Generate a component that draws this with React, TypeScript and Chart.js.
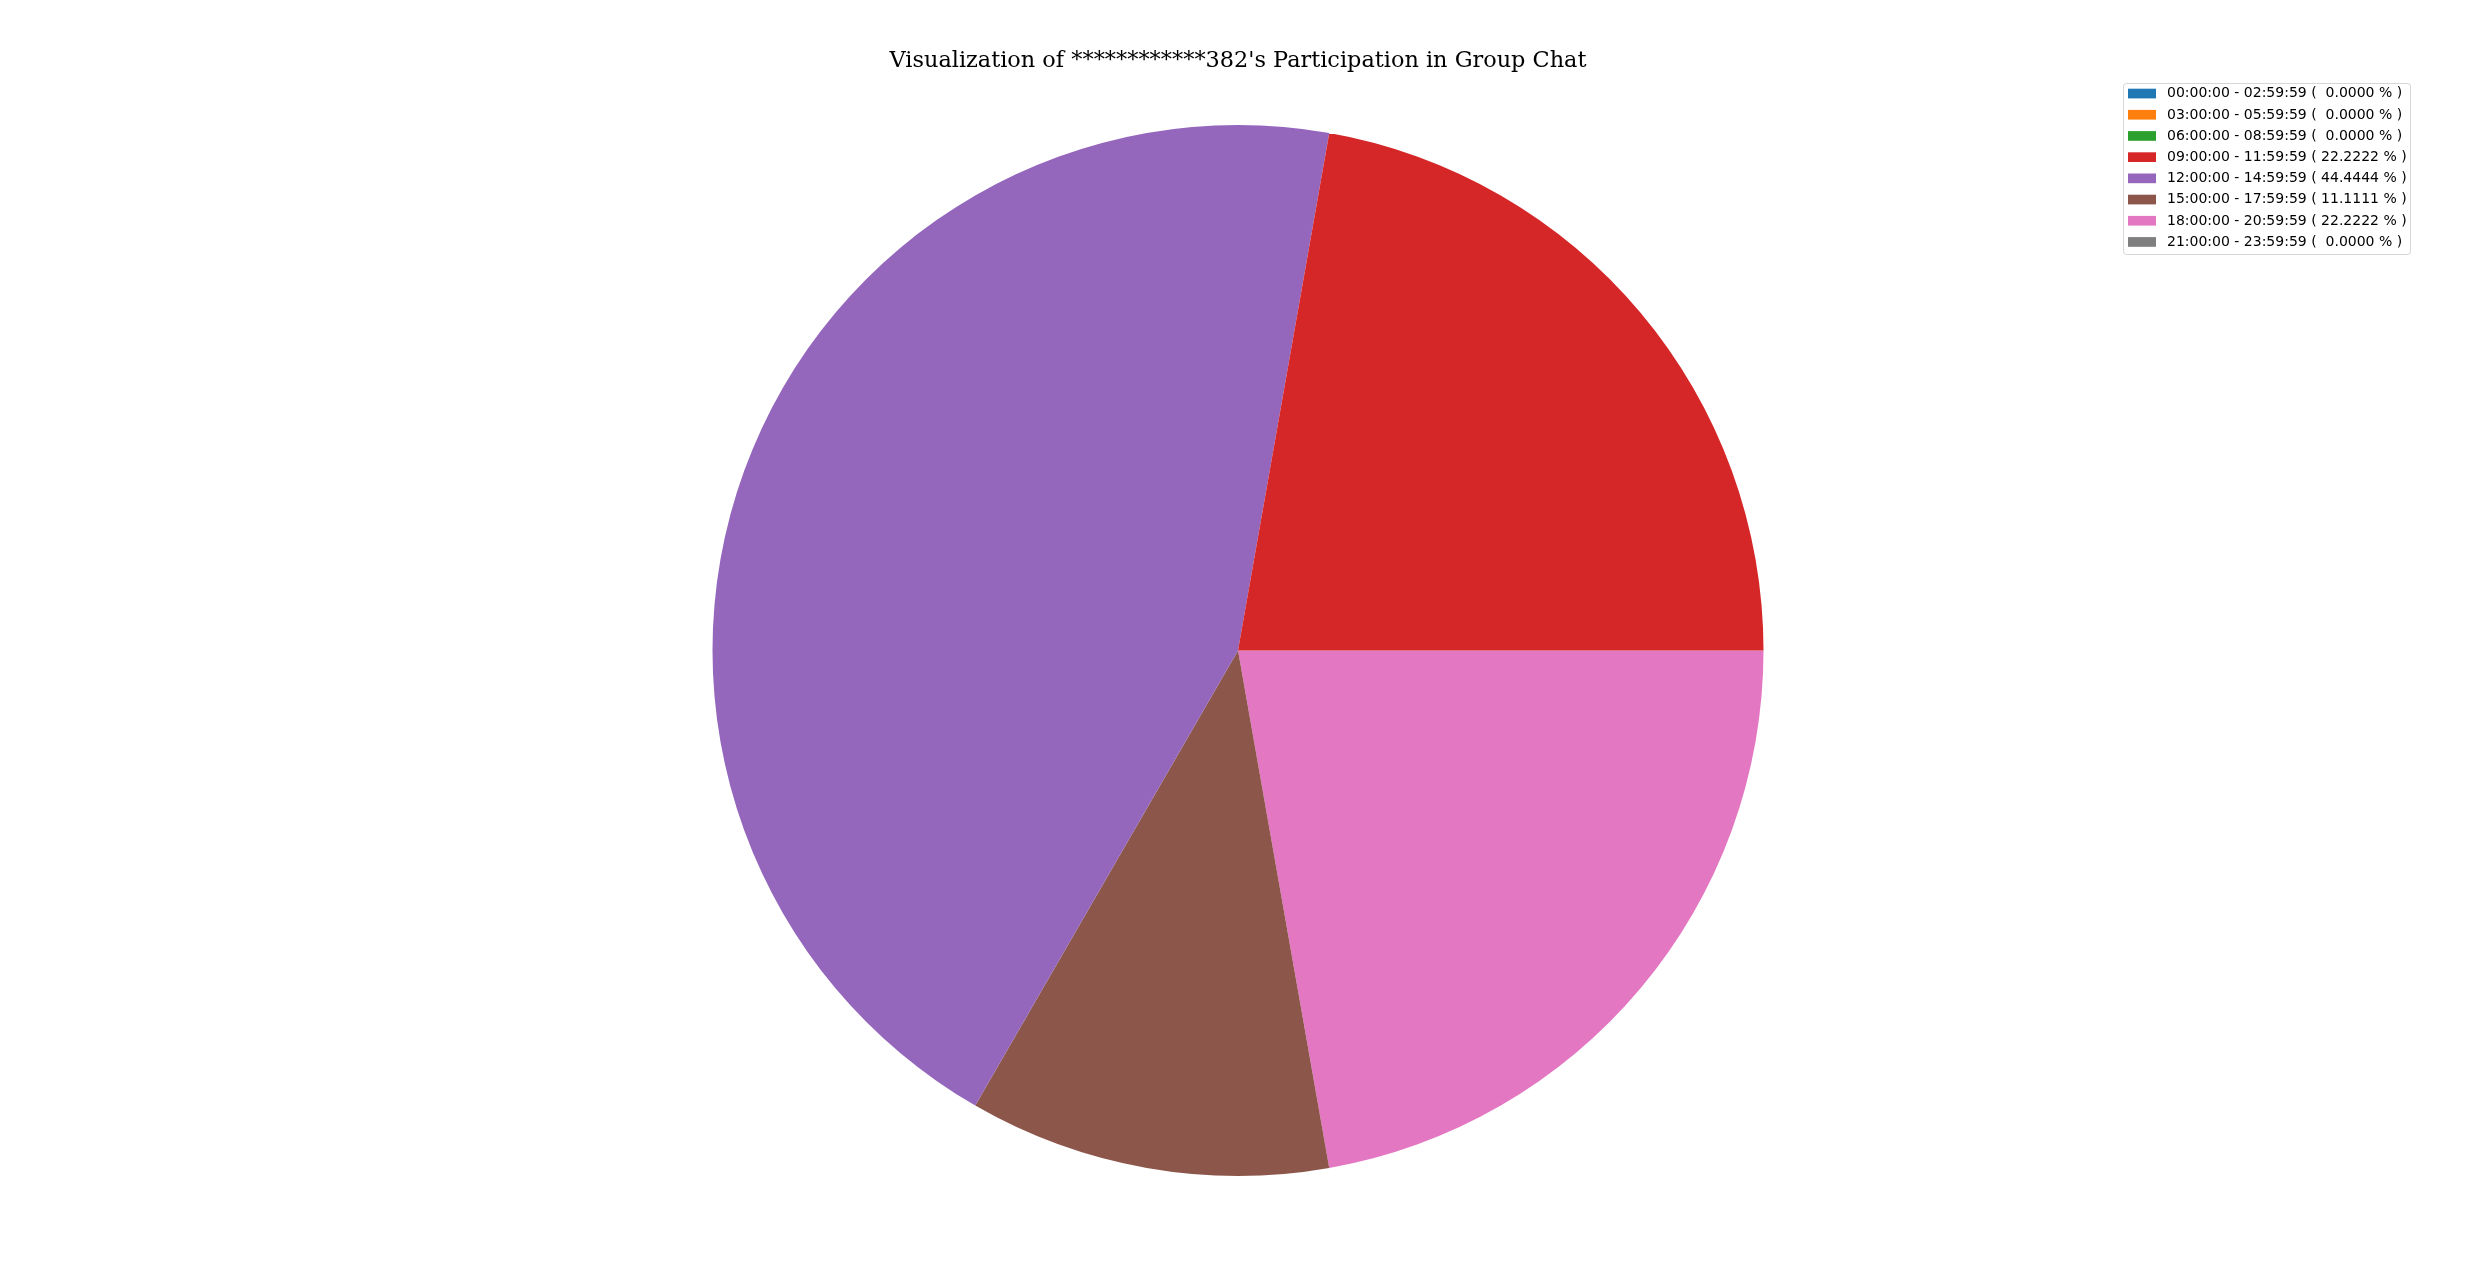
import { useEffect, useRef } from "react";
import { Chart, registerables, Plugin } from "chart.js";

Chart.register(...registerables);

const timeSlots = [
  "00:00:00 - 02:59:59",
  "03:00:00 - 05:59:59",
  "06:00:00 - 08:59:59",
  "09:00:00 - 11:59:59",
  "12:00:00 - 14:59:59",
  "15:00:00 - 17:59:59",
  "18:00:00 - 20:59:59",
  "21:00:00 - 23:59:59",
];

const shares = [0, 0, 0, 22.2222, 44.4444, 11.1111, 22.2222, 0];

const colors = [
  "#1f77b4",
  "#ff7f0e",
  "#2ca02c",
  "#d62728",
  "#9467bd",
  "#8c564b",
  "#e377c2",
  "#7f7f7f",
];

const chartTitle = "Visualization of ************382's Participation in Group Chat";

const legendLabel = (slot: string, pct: number) =>
  `${slot} ( ${pct.toFixed(4).padStart(7, " ")} % )`;

// matplotlib-style legend box in the upper right corner
const cornerLegend: Plugin<"pie"> = {
  id: "cornerLegend",
  afterDraw(chart) {
    const ctx = chart.ctx;
    const left = 2123;
    const top = 83;
    const width = 287;
    const height = 171;
    const rowH = 21.2;

    ctx.save();
    ctx.beginPath();
    ctx.roundRect(left + 0.5, top + 0.5, width, height, 3);
    ctx.fillStyle = "rgba(255,255,255,0.8)";
    ctx.fill();
    ctx.strokeStyle = "rgba(204,204,204,0.8)";
    ctx.lineWidth = 1;
    ctx.stroke();

    ctx.font = "14px 'DejaVu Sans'";
    ctx.textBaseline = "middle";
    timeSlots.forEach((slot, i) => {
      const cy = top + 10.5 + i * rowH;
      ctx.fillStyle = colors[i];
      ctx.fillRect(left + 5, cy - 4.8, 28, 9.7);
      ctx.fillStyle = "#000";
      ctx.fillText(legendLabel(slot, shares[i]), left + 44, cy + 0.3);
    });
    ctx.restore();
  },
};

export default function App() {
  const chartRef = useRef<HTMLCanvasElement>(null);

  useEffect(() => {
    if (!chartRef.current) return;

    const ctx = chartRef.current.getContext("2d");
    if (!ctx) return;

    // matplotlib draws counter-clockwise from 3 o'clock; Chart.js goes clockwise,
    // so feed the slices in reverse order starting at 90 degrees.
    const revLabels = [...timeSlots].reverse();
    const revShares = [...shares].reverse();
    const revColors = [...colors].reverse();

    const chart = new Chart(ctx, {
      type: "pie",
      data: {
        labels: revLabels,
        datasets: [
          {
            data: revShares,
            backgroundColor: revColors,
            borderWidth: 0,
          },
        ],
      },
      options: {
        responsive: true,
        maintainAspectRatio: false,
        animation: false,
        rotation: 90,
        layout: {
          padding: { left: 6, right: 0, top: 0, bottom: 94 },
        },
        plugins: {
          legend: { display: false },
          tooltip: { enabled: false },
          title: {
            display: true,
            text: chartTitle,
            color: "#000",
            font: { family: "'DejaVu Serif'", size: 22.4, weight: "normal", lineHeight: 1.2 },
            padding: { top: 47.5, bottom: 50.6 },
          },
        },
      },
      plugins: [cornerLegend],
    });

    return () => chart.destroy();
  }, []);

  return (
    <div style={{ position: "fixed", left: 0, top: 0, width: 2470, height: 1270, background: "#fff" }}>
      <canvas ref={chartRef} />
    </div>
  );
}
